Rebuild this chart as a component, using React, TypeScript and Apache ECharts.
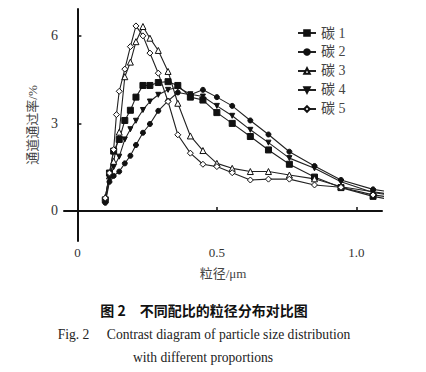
import React, { useEffect, useRef } from "react";
import * as echarts from "echarts";

const xBins = [0.1, 0.115, 0.13, 0.14, 0.15, 0.17, 0.19, 0.21, 0.235, 0.26, 0.29, 0.325, 0.36, 0.405, 0.45, 0.5, 0.555, 0.62, 0.685, 0.76, 0.85, 0.945, 1.06, 1.1];
const seriesNames = ["碳 1", "碳 2", "碳 3", "碳 4", "碳 5"];
const carbon1 = [0.38, 1.3, 2.05, null, 2.45, 3.1, 3.45, 3.9, 4.3, 4.3, 4.4, 4.43, 4.3, 3.9, 3.8, 3.37, 3.0, 2.55, 2.09, 1.6, 1.16, 0.8, 0.5, 0.43];
const carbon2 = [0.28, 1.0, 1.2, null, 1.35, 1.63, 1.89, 2.26, 2.68, 2.98, 3.43, 3.77, 4.06, 3.98, 4.15, 3.9, 3.6, 3.1, 2.62, 2.03, 1.54, 1.06, 0.74, 0.68];
const carbon3 = [0.47, 1.2, 1.7, null, 2.7, 4.6, 5.1, 5.8, 6.32, 5.92, 5.5, 4.78, 3.69, 2.57, 2.07, 1.63, 1.46, 1.35, 1.35, 1.23, 1.1, 0.83, 0.66, 0.6];
const carbon4 = [0.35, 1.1, 1.5, null, 1.86, 2.45, 2.8, 3.09, 3.46, 3.75, 3.98, 4.15, 4.24, 4.0, 3.92, 3.6, 3.26, 2.78, 2.34, 1.81, 1.46, 1.0, 0.63, 0.57];
const carbon5 = [0.44, 1.3, 2.1, 3.3, 4.1, 4.86, 5.63, 6.34, 6.0, 5.41, 4.72, 3.75, 2.61, 1.98, 1.6, 1.52, 1.31, 1.06, 1.09, 1.09, 0.89, 0.81, 0.55, 0.5];
const xTicks = [0, 0.5, 1.0];
const yTicks = [0, 3, 6];
const xAxisTitle = "粒径/μm";
const yAxisTitle = "通道通过率/%";
const captionCn = "图 2　不同配比的粒径分布对比图";
const captionEn1 = "Fig. 2　 Contrast diagram of particle size distribution";
const captionEn2 = "with different proportions";

const FONT = "'Liberation Serif', 'Noto Sans CJK SC', serif";

export default function App() {
  const ref = useRef<HTMLDivElement>(null);
  useEffect(() => {
    if (!ref.current) return;
    const chart = echarts.init(ref.current, undefined, { renderer: "svg" });
    const values = [carbon1, carbon2, carbon3, carbon4, carbon5];
    const styles = [
      { symbol: "rect", size: 6, fill: "#111", rot: 0 },
      { symbol: "circle", size: 5, fill: "#111", rot: 0 },
      { symbol: "triangle", size: 6, fill: "#fff", rot: 0 },
      { symbol: "triangle", size: 5, fill: "#111", rot: 180 },
      { symbol: "diamond", size: 6, fill: "#fff", rot: 0 },
    ];
    const series = values.map((vals, i) => ({
      name: seriesNames[i],
      type: "line",
      data: xBins.map((x, j) => [x, vals[j]]).filter((p) => p[1] !== null),
      symbol: styles[i].symbol,
      symbolSize: styles[i].size,
      symbolRotate: styles[i].rot,
      showAllSymbol: true,
      clip: true,
      lineStyle: { color: "#222", width: 1.1 },
      itemStyle: { color: styles[i].fill, borderColor: "#111", borderWidth: 1 },
      emphasis: { disabled: true },
    }));
    chart.setOption({
      animation: false,
      grid: { left: 64, top: 9, width: 318, height: 232, containLabel: false },
      legend: {
        orient: "vertical",
        left: 292,
        top: 21,
        itemWidth: 18,
        itemHeight: 7,
        itemGap: 5,
        textStyle: { fontFamily: FONT, fontSize: 14, color: "#444" },
        data: seriesNames,
      },
      xAxis: {
        type: "value",
        min: -0.048,
        max: 1.092,
        name: xAxisTitle,
        nameLocation: "middle",
        nameGap: 26,
        nameTextStyle: { fontFamily: FONT, fontSize: 13, color: "#444" },
        axisLine: { lineStyle: { color: "#111", width: 2 } },
        axisTick: { inside: true, length: 4, customValues: xTicks, lineStyle: { color: "#111", width: 1.5 } },
        axisLabel: { customValues: xTicks, fontFamily: FONT, fontSize: 13, color: "#333", margin: 5, formatter: (v: number) => (v === 0 ? "0" : v.toFixed(1)) },
        splitLine: { show: false },
      },
      yAxis: {
        type: "value",
        min: -1.03,
        max: 6.92,
        name: yAxisTitle,
        nameLocation: "middle",
        nameRotate: 90,
        nameGap: 25,
        nameTextStyle: { fontFamily: FONT, fontSize: 13, color: "#444" },
        axisLine: { show: true, lineStyle: { color: "#111", width: 2 } },
        axisTick: { show: true, inside: true, length: 4, customValues: yTicks, lineStyle: { color: "#111", width: 1.5 } },
        axisLabel: { customValues: yTicks, fontFamily: FONT, fontSize: 14, color: "#333", margin: 6 },
        splitLine: { show: false },
      },
      graphic: [
        { type: "text", x: 204, y: 310, style: { text: captionCn, font: "bold 14px 'Noto Sans CJK SC', sans-serif", fill: "#111", align: "center", verticalAlign: "middle" } },
        { type: "text", x: 204, y: 334, style: { text: captionEn1, font: "13.6px 'Liberation Serif', serif", fill: "#222", align: "center", verticalAlign: "middle" } },
        { type: "text", x: 203, y: 357, style: { text: captionEn2, font: "13.6px 'Liberation Serif', serif", fill: "#222", align: "center", verticalAlign: "middle" } },
      ],
      series,
    });
    return () => chart.dispose();
  }, []);
  return <div ref={ref} style={{ position: "fixed", left: 0, top: 0, width: 426, height: 372, background: "#fff" }} />;
}
